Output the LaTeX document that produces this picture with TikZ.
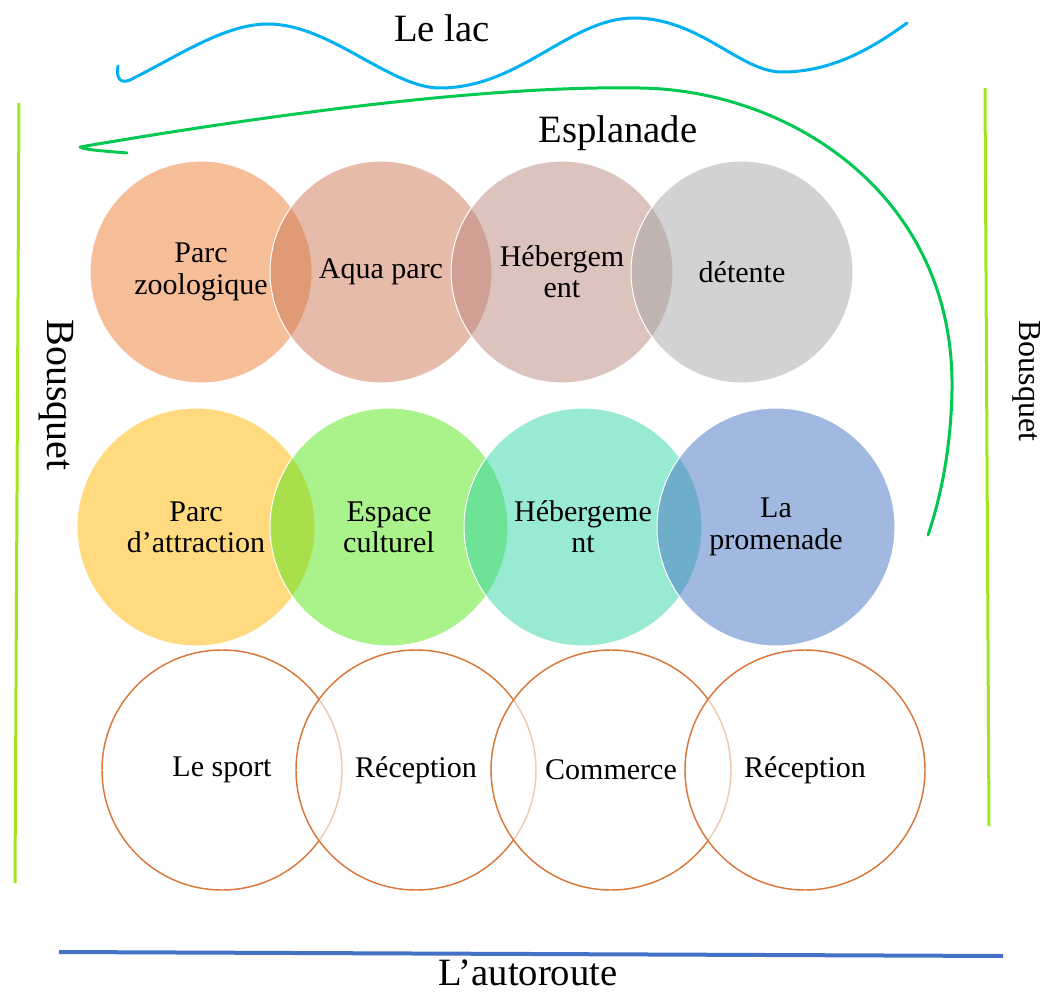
\documentclass[tikz,border=0pt]{standalone}
\usepackage{fontspec}
\setmainfont{Liberation Serif}
\usepackage{xcolor}

% base colours, shown at half opacity
\definecolor{zooC}{RGB}{237,125,49}
\definecolor{aquaC}{RGB}{205,119,85}
\definecolor{hebupC}{RGB}{185,135,125}
\definecolor{restC}{RGB}{165,165,165}
\definecolor{attrC}{RGB}{255,181,0}
\definecolor{cultC}{RGB}{85,229,21}
\definecolor{heblowC}{RGB}{51,213,165}
\definecolor{promC}{RGB}{68,114,196}
\definecolor{ringC}{RGB}{217,120,58}
\definecolor{lacC}{RGB}{0,176,240}
\definecolor{esplC}{RGB}{0,200,80}
\definecolor{bushC}{RGB}{160,230,30}
\definecolor{roadC}{RGB}{68,114,196}

\begin{document}
\begin{tikzpicture}[
  x=0.75pt, y=-0.75pt,
  venn/.style={circle, draw=white, line width=0.75pt, fill opacity=0.5, text opacity=1, inner sep=0pt, align=center, font=\fontsize{22.5}{23.5}\selectfont},
  upper/.style={venn, minimum size=166.5pt},
  lower/.style={venn, minimum size=178.5pt},
  ring/.style={circle, draw=ringC, line width=1.1pt, fill=white, fill opacity=0.6, text opacity=1, inner sep=0pt, minimum size=180pt, font=\fontsize{22.5}{23.5}\selectfont},
  lbl/.style={inner sep=0pt, anchor=base, font=\fontsize{29}{32}\selectfont},
  water/.style={draw=lacC, line width=2.25pt, line cap=round, line join=round},
  walk/.style={draw=esplC, line width=2.25pt, line cap=round, line join=round},
  bush/.style={draw=bushC, line width=2.25pt},
  road/.style={draw=roadC, line width=3pt}
]
\useasboundingbox (0,0) rectangle (1047,995);

% LAKE
\draw[water] (118,66) .. controls (116,78) and (120,84) .. (130,80)
  .. controls (180,55) and (225,24) .. (268,24)
  .. controls (330,24) and (390,88) .. (440,88)
  .. controls (520,88) and (570,18) .. (634,18)
  .. controls (700,18) and (740,72) .. (782,72)
  .. controls (830,72) and (870,50) .. (907,23);
\node[lbl] (lac) at (442,42) {Le lac};

% ESPLANADE
\draw[walk] (127,153) .. controls (105,151) and (85,150) .. (80,147)
  .. controls (250,118) and (480,85) .. (640,88)
  .. controls (790,90) and (955,195) .. (952,390)
  .. controls (951,450) and (940,500) .. (928,535);
\node[lbl] (espl) at (618,143) {Esplanade};

% BOUSQUET
\draw[bush] (19,103) -- (15,883);
\draw[bush] (985,88) -- (989,826);
\node[inner sep=0pt, rotate=-90, font=\fontsize{30}{32}\selectfont] (bousqL) at (56,395) {Bousquet};
\node[inner sep=0pt, rotate=-90, font=\fontsize{24}{26}\selectfont] (bousqR) at (1027,381) {Bousquet};

% TOP ROW
\node[upper, fill=zooC] (zoo) at (201,272) {Parc\\zoologique};
\node[upper, fill=aquaC] (aqua) at (381,272) {Aqua parc};
\node[upper, fill=hebupC] (hebup) at (562,272) {Hébergem\\ent};
\node[upper, fill=restC] (rest) at (742,272) {détente};

% MIDDLE ROW
\node[lower, fill=attrC] (attr) at (196,527) {Parc\\d’attraction};
\node[lower, fill=cultC] (cult) at (389,527) {Espace\\culturel};
\node[lower, fill=heblowC] (heblow) at (583,527) {Hébergeme\\nt};
\node[lower, fill=promC] (prom) at (776,527) {La\\promenade};

% BOTTOM ROW
\node[ring] (sport) at (222,770) {Le sport};
\node[ring] (recepA) at (416,770) {Réception};
\node[ring] (comm) at (611,770) {Commerce};
\node[ring] (recepB) at (805,770) {Réception};

% MOTORWAY
\draw[road] (59,952) -- (1003,956);
\node[lbl] (route) at (528,985) {L’autoroute};

\end{tikzpicture}
\end{document}
